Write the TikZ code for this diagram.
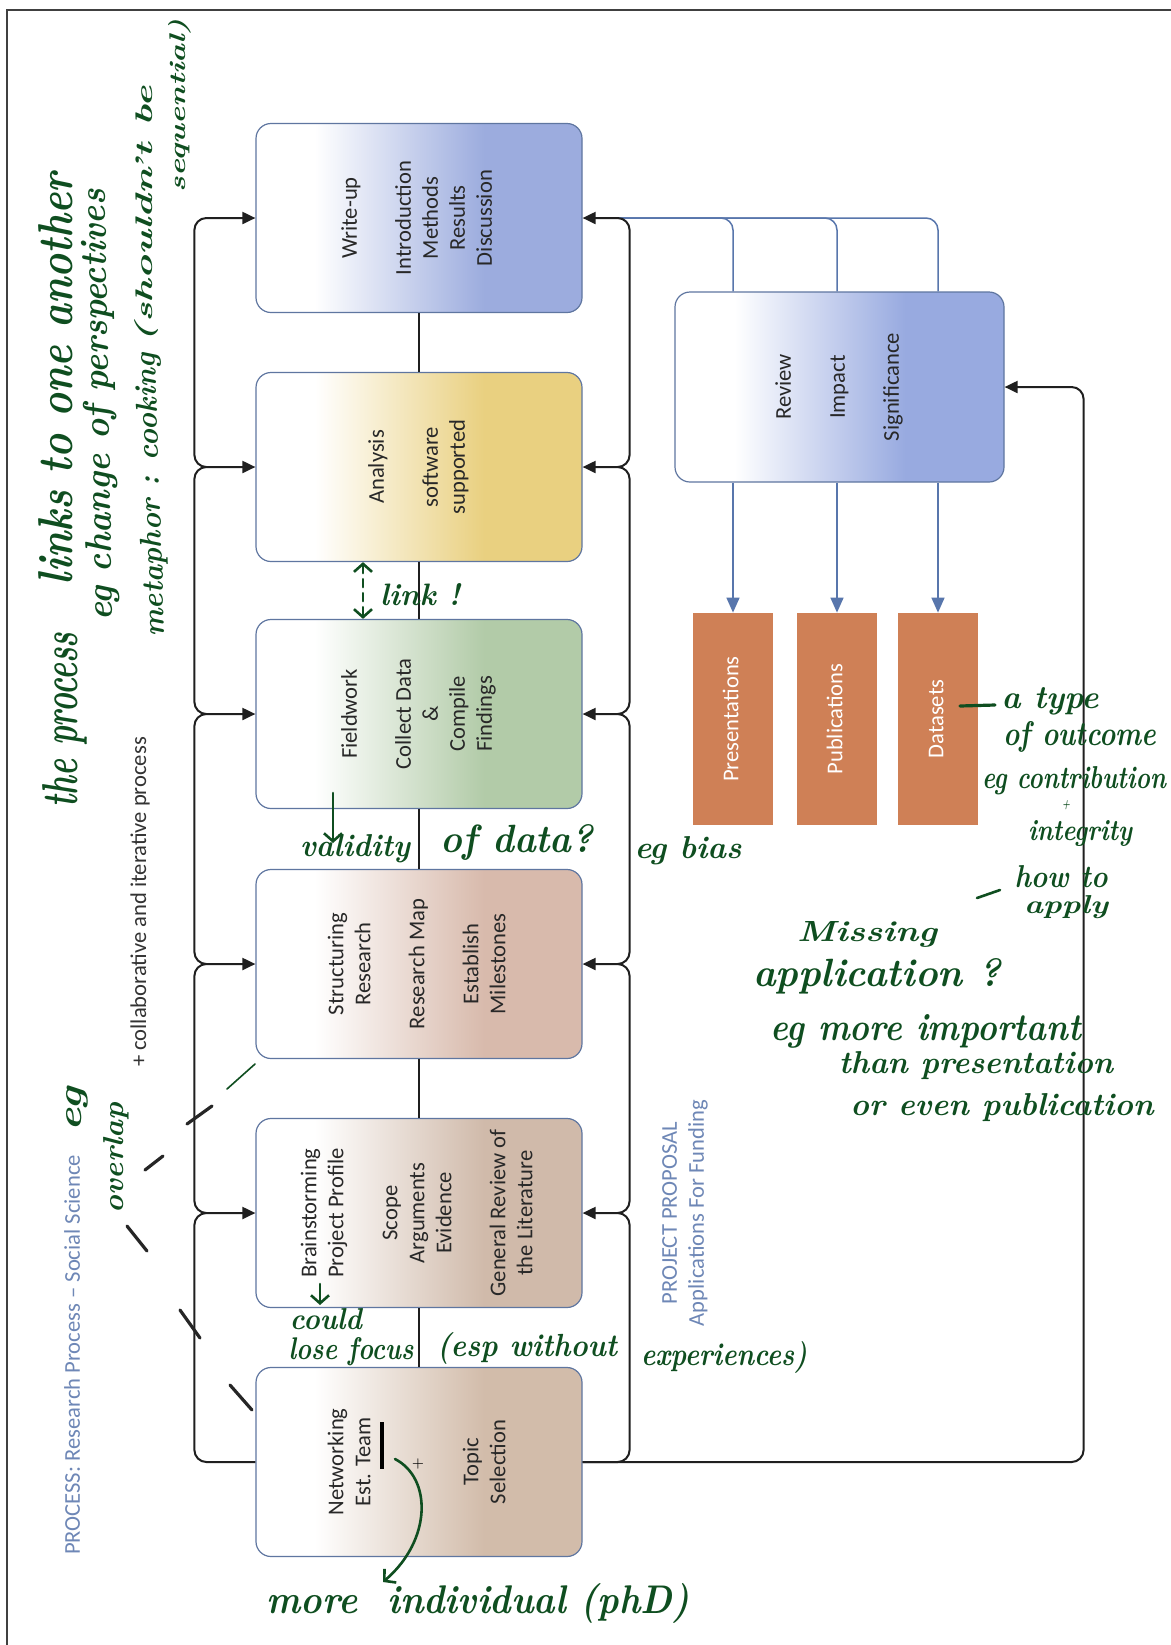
\documentclass[tikz,border=0pt]{standalone}
\usepackage{fontspec}
\usepackage{graphicx}
\newfontfamily\boxfont{Carlito}
\usetikzlibrary{arrows.meta,calc}
\definecolor{wublue}{RGB}{156,172,222}
\definecolor{anyel}{RGB}{233,208,128}
\definecolor{fwgreen}{RGB}{178,203,168}
\definecolor{stpink}{RGB}{216,186,172}
\definecolor{bstan}{RGB}{208,186,170}
\definecolor{nttan}{RGB}{210,188,170}
\definecolor{rvblue}{RGB}{152,170,224}
\definecolor{orng}{RGB}{207,128,86}
\definecolor{bordc}{RGB}{95,118,160}
\definecolor{bluec}{RGB}{88,118,172}
\definecolor{titlec}{RGB}{110,135,182}
\definecolor{ink}{RGB}{15,78,32}
\definecolor{txt}{RGB}{40,40,40}
\newcommand\mkshade[2]{\pgfdeclarehorizontalshading{#1}{100bp}{color(0bp)=(white); color(34bp)=(white); color(60bp)=(#2); color(100bp)=(#2)}}
\mkshade{shwu}{wublue}
\mkshade{shan}{anyel}
\mkshade{shfw}{fwgreen}
\mkshade{shst}{stpink}
\mkshade{shbs}{bstan}
\mkshade{shnt}{nttan}
\mkshade{shrv}{rvblue}
\newcommand\rt[1]{\rotatebox{90}{\begin{tabular}{@{}c@{}}#1\end{tabular}}}
\newcommand\hw[3]{\resizebox{#1pt}{#2pt}{\bfseries\itshape #3}}
\begin{document}
\begin{tikzpicture}[x=0.5pt,y=-0.5pt,
  pbox/.style={draw=bordc, line width=0.6pt, rounded corners=7.5pt, minimum width=163pt, minimum height=94.5pt, inner sep=0pt, shade, font=\boxfont\fontsize{11.3}{13.5}\selectfont, text=txt},
  obox/.style={fill=orng, minimum width=40pt, minimum height=106pt, inner sep=0pt, font=\boxfont\fontsize{11.3}{13.5}\selectfont, text=white},
  conn/.style={line width=1pt, draw=black!88},
  tip/.style={-{Triangle[length=6.5pt,width=6pt]}},
  bconn/.style={line width=0.75pt, draw=bluec},
  btip/.style={-{Triangle[length=7.5pt,width=6.5pt]}},
  rc/.style={rounded corners=6pt},
  lbl/.style={font=\boxfont\fontsize{11.3}{13.5}\selectfont, inner sep=0pt},
  hand/.style={text=ink, inner sep=0pt, anchor=base},
  pen/.style={draw=ink, line width=1.3pt, line cap=round, line join=round},
  barb/.style={-{Straight Barb[length=4pt,width=9pt]}},
  stroke/.style={draw=black!85, line width=1.6pt, line cap=round},
]
\fill[white] (0,0) rectangle (1171,1645);
\useasboundingbox (0,0) rectangle (1171,1645);
\draw[line width=1.2pt, draw=black!75] (7,1645) -- (7,10) -- (1171,10);

% process boxes
\node[pbox, shading=shwu] (wu) at (419,218) {\rt{Write-up\\ \\Introduction\\Methods\\Results\\Discussion}};
\node[pbox, shading=shan] (an) at (419,467) {\rt{Analysis\\ \\software\\supported}};
\node[pbox, shading=shfw] (fw) at (419,714) {\rt{Fieldwork\\ \\Collect Data\\\&\\Compile\\Findings}};
\node[pbox, shading=shst] (st) at (419,964) {\rt{Structuring\\Research\\ \\Research Map\\ \\Establish\\Milestones}};
\node[pbox, shading=shbs] (bs) at (419,1213) {\rt{Brainstorming\\Project Profile\\ \\Scope\\Arguments\\Evidence\\ \\General Review of\\the Literature}};
\node[pbox, shading=shnt] (net) at (419,1462) {\rt{Networking\\Est. Team\\ \\ \\ \\Topic\\Selection}};
\node[pbox, shading=shrv, minimum width=164.5pt, minimum height=95pt] (rev) at (839.5,387) {\rt{Review\\ \\Impact\\ \\Significance}};
\node[obox] (pres) at (733,719) {\rt{Presentations}};
\node[obox] (pub) at (837,719) {\rt{Publications}};
\node[obox] (data) at (938,719) {\rt{Datasets}};

% centre spine
\draw[conn] (wu.south) -- (an.north);
\draw[conn] (an.south) -- (fw.north);
\draw[conn] (fw.south) -- (st.north);
\draw[conn] (st.south) -- (bs.north);
\draw[conn] (bs.south) -- (net.north);

% junctions
\coordinate (Lan) at ($(an.west)+(-49,0)$);
\coordinate (Lfw) at ($(fw.west)+(-49,0)$);
\coordinate (Lst) at ($(st.west)+(-49,0)$);
\coordinate (Lbs) at ($(bs.west)+(-49,0)$);
\coordinate (Rwu) at ($(wu.east)+(35,0)$);
\coordinate (Ran) at ($(an.east)+(35,0)$);
\coordinate (Rfw) at ($(fw.east)+(35,0)$);
\coordinate (Rst) at ($(st.east)+(35,0)$);
\coordinate (Rbs) at ($(bs.east)+(35,0)$);

% blue links from review
\draw[bconn, rc] (rev.north -| pres.north) |- (Rwu);
\draw[bconn, rc] (rev.north -| pub.north) |- (Rwu);
\draw[bconn, rc] (rev.north -| data.north) |- (Rwu);
\draw[bconn, btip] (rev.south -| pres.north) -- (pres.north);
\draw[bconn, btip] (rev.south -| pub.north) -- (pub.north);
\draw[bconn, btip] (rev.south -| data.north) -- (data.north);

% left bus
\draw[conn, rc, tip] (Lan) -| ($(wu.west)+(-61,0)$) -- (wu.west);
\draw[conn, rc, tip] (Lfw) -| ($(an.west)+(-61,0)$) -- (an.west);
\draw[conn, rc, tip] (Lst) -| ($(fw.west)+(-61,0)$) -- (fw.west);
\draw[conn, rc, tip] (Lbs) -| ($(st.west)+(-61,0)$) -- (st.west);
\draw[conn, rc, tip] (net.west) -| ($(bs.west)+(-61,0)$) -- (bs.west);
% right bus
\draw[conn, rc, tip] (Ran) -| ($(wu.east)+(47,0)$) -- (wu.east);
\draw[conn, rc, tip] (Rfw) -| ($(an.east)+(47,0)$) -- (an.east);
\draw[conn, rc, tip] (Rst) -| ($(fw.east)+(47,0)$) -- (fw.east);
\draw[conn, rc, tip] (Rbs) -| ($(st.east)+(47,0)$) -- (st.east);
\draw[conn, rc, tip] (net.east) -| ($(bs.east)+(47,0)$) -- (bs.east);
% return to review
\draw[conn, rc, tip] (net.east) -| ($(rev.east)+(79,0)$) -- (rev.east);

% printed labels
\node[lbl, rotate=90, text=titlec] (ttl) at (72,1355) {PROCESS: Research Process – Social Science};
\node[lbl, rotate=90, text=black!80] (col) at (140,902) {+ collaborative and iterative process};
\node[lbl, rotate=90, text=titlec] (pp) at (685,1213) {\begin{tabular}{@{}c@{}}PROJECT PROPOSAL\\Applications For Funding\end{tabular}};

% handwritten: top-left block
\node[hand, rotate=90] (h1) at (77,720) {\hw{87.5}{17.5}{the process}};
\node[hand, rotate=90] (h2) at (72,379) {\hw{206}{17}{links to one another}};
\node[hand, rotate=91] (h3) at (109,405) {\hw{216}{13}{eg change of perspectives}};
\node[hand, rotate=92] (h4) at (160,495) {\hw{142}{10.5}{metaphor : cooking}};
\node[hand, rotate=90] (h5) at (152,214) {\hw{128}{9}{(shouldn't be}};
\node[hand, rotate=90] (h6) at (185,106) {\hw{86.5}{8.5}{sequential)}};
% eg overlap
\node[hand, rotate=90] (h7) at (82,1109) {\hw{22}{7.5}{eg}};
\node[hand, rotate=90] (h8) at (123,1158) {\hw{55}{10}{overlap}};
\draw[pen, line width=0.8pt] (227,1089) -- (255,1064);
\draw[stroke] (187,1124) -- (212,1106);
\draw[stroke] (145,1170) -- (163,1156);
\draw[stroke] (127,1226) -- (147,1251);
\draw[stroke] (180,1310) -- (200,1338);
\draw[stroke] (230,1385) -- (252,1410);

% link
\coordinate (lk) at (363,0);
\draw[pen, dash pattern=on 4pt off 3pt, {Straight Barb[length=4pt,width=9pt]}-{Straight Barb[length=4pt,width=9pt]}] (an.south -| lk) -- (fw.north -| lk);
\node[hand] (h9) at (420,605) {\hw{40}{11}{link !}};

% validity
\coordinate (va1) at (333,793);
\coordinate (va2) at (333,843);
\draw[pen, barb] (va1) -- (va2);
\node[hand] (h10) at (355,856) {\hw{55}{11}{validity}};
\node[hand] (h11) at (517,852) {\hw{76.5}{14}{of data?}};
\node[hand] (h12) at (688,858) {\hw{53.5}{11}{eg bias}};

% could lose focus
\coordinate (cf1) at (320,1284);
\coordinate (cf2) at (320,1305);
\draw[pen, barb] (cf1) -- (cf2);
\node[hand] (h13) at (326,1329) {\hw{36}{10.5}{could}};
\node[hand] (h14) at (351,1359) {\hw{62.5}{11}{lose focus}};
\node[hand] (h15) at (527,1356) {\hw{90}{12}{(esp without}};
\node[hand] (h16) at (724,1365) {\hw{83}{12}{experiences)}};

% more individual
\coordinate (bar1) at (382,1422);
\coordinate (bar2) at (382,1469);
\draw[line width=2pt, black] (bar1) -- (bar2);
\coordinate (cv1) at (395,1459);
\coordinate (cv2) at (383,1582);
\draw[pen, barb] (cv1) .. controls (432,1478) and (432,1540) .. (cv2);
\node[inner sep=0pt, font=\fontsize{7}{8}\selectfont] (plus) at (418,1464) {+};
\node[hand] (h17) at (478,1613) {\hw{211.5}{15}{more~~individual (phD)}};

% datasets notes
\coordinate (d1) at (960,706);
\coordinate (d2) at (995,705);
\draw[pen, line width=1.6pt] (d1) -- (d2);
\node[hand] (h18) at (1050,708) {\hw{48.5}{10.5}{a type}};
\node[hand] (h19) at (1080,745) {\hw{76.5}{12}{of outcome}};
\node[hand] (h20) at (1074,788) {\hw{92}{11}{eg contribution}};
\node[hand, anchor=center] (h21) at (1066,805) {\hw{4}{4}{+}};
\node[hand] (h22) at (1080,840) {\hw{52}{10}{integrity}};
\coordinate (d3) at (977,898);
\coordinate (d4) at (1000,890);
\draw[pen] (d3) -- (d4);
\node[hand] (h23) at (1061,887) {\hw{46.5}{11}{how to}};
\node[hand] (h24) at (1066,913) {\hw{42}{9}{apply}};
\node[hand] (h25) at (867,941) {\hw{70}{10}{Missing}};
\node[hand] (h26) at (877,986) {\hw{124}{14}{application ?}};
\node[hand] (h27) at (926,1040) {\hw{155}{13}{eg more important}};
\node[hand] (h28) at (976,1073) {\hw{137}{11}{than presentation}};
\node[hand] (h29) at (1002,1115) {\hw{151.5}{11}{or even publication}};
\end{tikzpicture}
\end{document}
